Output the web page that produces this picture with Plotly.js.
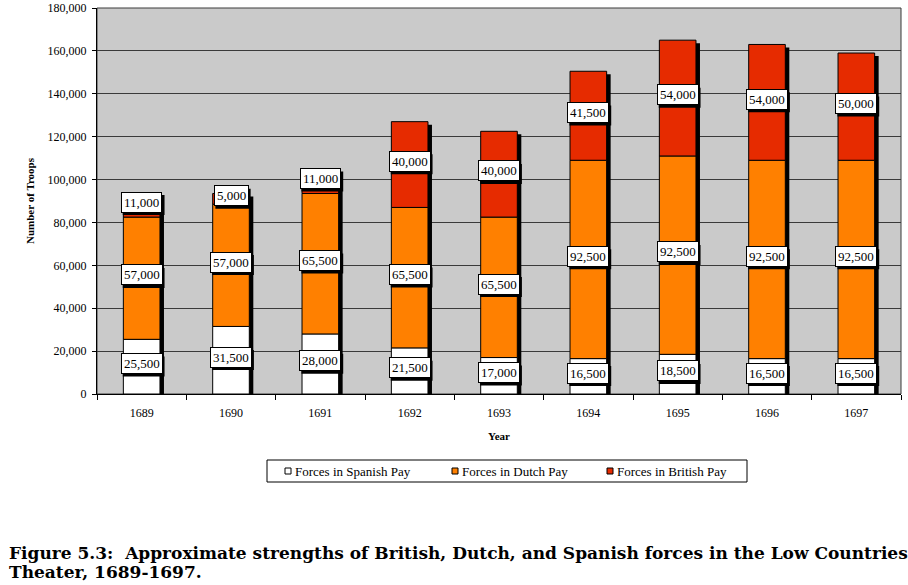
<!DOCTYPE html>
<html>
<head>
<meta charset="utf-8">
<script src="https://cdn.plot.ly/plotly-3.0.1.min.js"></script>
<style>html,body{margin:0;padding:0;background:#fff;}#chart{width:908px;height:585px;}</style>
</head>
<body>
<div id="chart"></div>
<script>
// ---- data ----
var years = ['1689','1690','1691','1692','1693','1694','1695','1696','1697'];
var spanish = [25500, 31500, 28000, 21500, 17000, 16500, 18500, 16500, 16500];
var dutch   = [57000, 57000, 65500, 65500, 65500, 92500, 92500, 92500, 92500];
var british = [11000, 5000, 11000, 40000, 40000, 41500, 54000, 54000, 50000];
var seriesNames = ['Forces in Spanish Pay', 'Forces in Dutch Pay', 'Forces in British Pay'];
var seriesColors = ['#FFFFFF', '#FF8000', '#E62B00'];
var yTickVals = [0, 20000, 40000, 60000, 80000, 100000, 120000, 140000, 160000, 180000];
var captionLines = ['Figure 5.3:\u00a0 Approximate strengths of British, Dutch, and Spanish forces in the Low Countries',
                    'Theater, 1689-1697.'];

// ---- derived ----
var zeros = spanish.map(function(){ return 0; });
var dutchBase = spanish.slice();
var britBase = spanish.map(function(s, i){ return s + dutch[i]; });
var totals = britBase.map(function(b, i){ return b + british[i]; });

var FONT = 'Liberation Serif, Times New Roman, serif';
var W = 908, H = 585, ML = 97, MR = 7, MT = 8, MB = 191;
var PW = W - ML - MR, PH = H - MT - MB;
function px2x(p){ return (p - ML) / PW; }
function py2y(p){ return (H - MB - p) / PH; }

var barW = 0.41;
var unitsPerPx = 180000 / PH;
var shadowDrop = 3 * unitsPerPx;
var shadowShift = 4 / (PW / years.length);

var shadow = {
  type: 'bar', x: years, y: totals.map(function(t){ return t - shadowDrop; }), base: 0,
  width: barW, offset: -barW/2 + shadowShift,
  marker: {color: '#000000', line: {width: 0}}, showlegend: false, hoverinfo: 'skip'
};
function seg(name, vals, base, color) {
  return {
    type: 'bar', name: name, x: years, y: vals, base: base,
    width: barW, offset: -barW/2, showlegend: false,
    marker: {color: color, line: {color: '#000000', width: 1}}, hoverinfo: 'skip'
  };
}
var traces = [
  shadow,
  seg(seriesNames[0], spanish, zeros, seriesColors[0]),
  seg(seriesNames[1], dutch, dutchBase, seriesColors[1]),
  seg(seriesNames[2], british, britBase, seriesColors[2])
];

var annotations = [];
var shapes = [];
// plot frame (top/right border)
shapes.push({type: 'rect', xref: 'paper', yref: 'paper', x0: 0, x1: 1, y0: 0, y1: 1, layer: 'below',
  line: {color: '#3A3A3A', width: 1}, fillcolor: 'rgba(0,0,0,0)'});

function fmt(v){ return v.toLocaleString('en-US'); }
var labelLift = 1500;
function addLabels(vals, base) {
  vals.forEach(function(v, i){
    var yc = base[i] + v/2 + labelLift;
    var t = fmt(v);
    var nd = t.replace(/,/g, '').length, nc = t.length - nd;
    var half = (nd * 6.5 + nc * 3.25 + 6) / 2;
    // label shadow (offset box)
    shapes.push({type: 'rect', xref: 'x', yref: 'y', xsizemode: 'pixel', ysizemode: 'pixel',
      xanchor: i, yanchor: yc, x0: -half + 2, x1: half + 2, y0: -10 - 3, y1: 10 - 3,
      line: {width: 0}, fillcolor: '#000000'});
    annotations.push({x: i, y: yc, xref: 'x', yref: 'y', text: t, showarrow: false,
      font: {family: FONT, size: 13, color: '#000'}, bgcolor: '#FFFFFF', bordercolor: '#000', borderwidth: 1, borderpad: 2});
  });
}
addLabels(spanish, zeros);
addLabels(dutch, dutchBase);
addLabels(british, britBase);

// legend (drawn as box + swatches + text)
shapes.push({type: 'rect', xref: 'paper', yref: 'paper', x0: px2x(267), x1: px2x(747), y0: py2y(482), y1: py2y(460),
  line: {color: '#000', width: 1}, fillcolor: '#FFFFFF'});
var swatchX = [285, 452, 607];
seriesNames.forEach(function(n, k){
  var sx = swatchX[k];
  shapes.push({type: 'rect', xref: 'paper', yref: 'paper', x0: px2x(sx), x1: px2x(sx + 6), y0: py2y(474), y1: py2y(468),
    line: {color: '#000', width: 1}, fillcolor: seriesColors[k]});
  annotations.push({xref: 'paper', yref: 'paper', x: px2x(sx + 8), y: py2y(471), xanchor: 'left', yanchor: 'middle',
    showarrow: false, text: n, font: {family: FONT, size: 13, color: '#000'}});
});

// caption
annotations.push({xref: 'paper', yref: 'paper', x: px2x(7), y: py2y(553), xanchor: 'left', yanchor: 'middle',
  showarrow: false, text: captionLines[0], font: {family: 'DejaVu Serif, serif', size: 17, color: '#000', weight: 'bold'}});
annotations.push({xref: 'paper', yref: 'paper', x: px2x(7), y: py2y(572), xanchor: 'left', yanchor: 'middle',
  showarrow: false, text: captionLines[1], font: {family: 'DejaVu Serif, serif', size: 17, color: '#000', weight: 'bold'}});

var layout = {
  width: W, height: H,
  margin: {l: ML, r: MR, t: MT, b: MB},
  paper_bgcolor: '#FFFFFF', plot_bgcolor: '#CACACA',
  barmode: 'overlay',
  font: {family: FONT, size: 12, color: '#000'},
  showlegend: false,
  xaxis: {
    type: 'category', tickson: 'boundaries', ticks: 'outside', ticklen: 5, tickcolor: '#000',
    showline: true, linecolor: '#000', linewidth: 1, showgrid: false, ticklabelstandoff: 8,
    tickfont: {family: FONT, size: 12}, range: [-0.5, 8.5],
    title: {text: '<b>Year</b>', font: {family: FONT, size: 11}, standoff: 12}
  },
  yaxis: {
    range: [0, 180000], tickvals: yTickVals, tickformat: ',', ticks: 'outside', ticklen: 4, tickcolor: '#000',
    showline: true, linecolor: '#000', linewidth: 1, showgrid: true, gridcolor: '#3A3A3A', gridwidth: 1,
    zeroline: false, tickfont: {family: FONT, size: 12}, ticklabelstandoff: 3, ticklabeloverflow: 'allow',
    title: {text: '<b>Number of Troops</b>', font: {family: FONT, size: 11}, standoff: 10}
  },
  shapes: shapes,
  annotations: annotations
};

Plotly.newPlot('chart', traces, layout, {staticPlot: true, displayModeBar: false});
</script>
</body>
</html>
